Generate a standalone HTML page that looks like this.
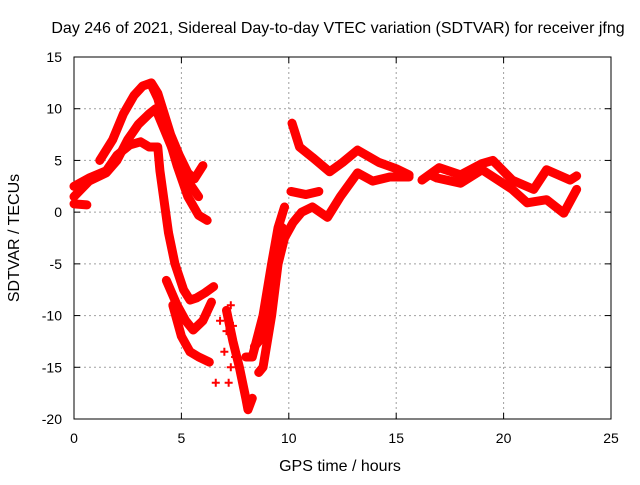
<!DOCTYPE html>
<html><head><meta charset="utf-8"><style>
body{margin:0;background:#fff;}
svg text{font-family:"Liberation Sans",sans-serif;font-size:14px;fill:#000;}
svg text.big{font-size:16px;}
</style></head><body>
<svg id="chart" width="640" height="480">
<rect width="640" height="480" fill="#fff"/>
<text class="big" x="338" y="33" text-anchor="middle">Day 246 of 2021, Sidereal Day-to-day VTEC variation (SDTVAR) for receiver jfng</text>
<text class="big" x="340" y="471" text-anchor="middle">GPS time / hours</text>
<text class="big" x="0" y="0" transform="translate(19,238) rotate(-90)" text-anchor="middle">SDTVAR / TECUs</text>
<g id="grid"></g>
<g id="axes"></g>
<g id="marks"></g>
</svg>
<script>
const xTicks=[0,5,10,15,20,25];
const yTicks=[15,10,5,0,-5,-10,-15,-20];
const trackA=[[1.2,5],[1.8,7],[2.3,9.5],[2.8,11.3],[3.2,12.2],[3.6,12.5],[3.9,11.5],[4.2,9.5],[4.5,7.5],[4.9,5.5],[5.3,3.8],[5.6,3.2],[6.0,4.5]];
const trackB=[[0,1.5],[0.7,3],[1.5,3.8],[2.0,5],[2.5,7],[3.0,8.5],[3.5,9.5],[3.8,10],[4.2,8],[4.8,5],[5.3,3],[5.8,1.5]];
const trackB2=[[3.6,12.3],[3.9,11],[4.3,8],[4.8,4.5],[5.3,1.5],[5.8,-0.3],[6.2,-0.8]];
const trackC=[[0,2.5],[0.7,3.3],[1.5,4],[2.0,5.5],[2.6,6.5],[3.1,6.8],[3.5,6.3],[3.9,6.3],[4.0,4],[4.2,1],[4.4,-2],[4.7,-5],[5.1,-7.5],[5.4,-8.5],[5.7,-8.3],[6.1,-7.8],[6.5,-7.2]];
const trackD=[[4.3,-6.6],[4.8,-9],[5.2,-10.5],[5.55,-11.4],[6.0,-10.5],[6.4,-8.7]];
const trackE=[[4.6,-9],[5.0,-12],[5.4,-13.5],[5.8,-14],[6.3,-14.5]];
const trackF=[[0,0.8],[0.6,0.7]];
const trackG=[[7.1,-9.5],[7.4,-12.5],[7.7,-15],[8.0,-18],[8.1,-19.1],[8.3,-18]];
const trackH=[[8.0,-14],[8.3,-14],[8.8,-10],[9.2,-5],[9.5,-1.5],[9.8,0.5]];
const trackH2=[[8.4,-13],[8.8,-12],[9.1,-8],[9.4,-4],[9.7,-1.5]];
const trackI=[[8.6,-15.5],[8.8,-15],[9.2,-10],[9.5,-5],[9.8,-2.5],[10.2,-1],[10.6,0],[11.1,0.5],[11.8,-0.5],[12.4,1.5],[13.2,3.8],[13.9,3],[14.7,3.4],[15.6,3.4]];
const trackJ=[[10.15,8.6],[10.5,6.3],[11.1,5.3],[11.9,3.9],[12.5,4.8],[13.2,6],[14.2,4.8],[15.0,4.2],[15.6,3.6]];
const trackK=[[10.1,2],[10.8,1.7],[11.4,2]];
const trackL=[[16.2,3.1],[17,4.3],[18,3.6],[19,4.7],[19.5,5],[20.4,3.1],[21.4,2.2],[22,4.1],[23.1,3.1],[23.4,3.5]];
const trackM=[[16.6,3.6],[16.9,3.3],[18,2.8],[19,4.1],[20.4,2.2],[21.1,0.9],[22,1.2],[22.8,-0.1],[23.4,2.2]];
const scatterPts=[[7.0,-13.5],[7.1,-11.5],[7.4,-11],[7.3,-9],[6.6,-16.5],[7.2,-16.5],[6.8,-10.5],[7.5,-14],[7.3,-15]];
const tracks=[trackA,trackB,trackB2,trackC,trackD,trackE,trackF,trackG,trackH,trackH2,trackI,trackJ,trackK,trackL,trackM];

const L=74,R=611,T=57,B=419;
const xs=h=>L+h/25*(R-L);
const ys=v=>T+(15-v)/35*(B-T);
const NS='http://www.w3.org/2000/svg';
const grid=document.getElementById('grid'),axes=document.getElementById('axes'),marks=document.getElementById('marks');
function mk(tag,attrs,parent){const e=document.createElementNS(NS,tag);for(const k in attrs)e.setAttribute(k,attrs[k]);parent.appendChild(e);return e;}
xTicks.forEach(t=>{const x=xs(t);
 if(t>0&&t<25){const g=mk('line',{x1:x,x2:x,y1:T,y2:B,stroke:'#a0a0a0','stroke-dasharray':'2,3'},grid);
 
 }
 mk('line',{x1:x,x2:x,y1:B,y2:B-6,stroke:'#000'},axes);mk('line',{x1:x,x2:x,y1:T,y2:T+6,stroke:'#000'},axes);
 const tx=mk('text',{x:x,y:B+24,'text-anchor':'middle'},axes);tx.textContent=t;
 
 
});
yTicks.forEach(t=>{const y=ys(t);
 if(t>-20&&t<15){const g=mk('line',{x1:L,x2:R,y1:y,y2:y,stroke:'#a0a0a0','stroke-dasharray':'2,3'},grid);
 
 }
 mk('line',{x1:L,x2:L+6,y1:y,y2:y,stroke:'#000'},axes);mk('line',{x1:R,x2:R-6,y1:y,y2:y,stroke:'#000'},axes);
 const tx=mk('text',{x:L-12,y:y+5,'text-anchor':'end'},axes);tx.textContent=t;
 
 
});
mk('rect',{x:L,y:T,width:R-L,height:B-T,fill:'none',stroke:'#000'},axes);
function plus(h,v){const x=xs(h),y=ys(v);
 const p=mk('path',{d:`M${x-4},${y}H${x+4}M${x},${y-4}V${y+4}`,stroke:'#f00','stroke-width':2},marks);
 
 }
tracks.forEach(tr=>{
 const pl=mk('polyline',{points:tr.map(p=>xs(p[0])+','+ys(p[1])).join(' '),fill:'none',stroke:'#f00','stroke-width':9,'stroke-linejoin':'round','stroke-linecap':'round'},marks);
 
 
 tr.forEach(p=>plus(p[0],p[1]));
});
scatterPts.forEach(p=>plus(p[0],p[1]));
</script>
</body></html>
